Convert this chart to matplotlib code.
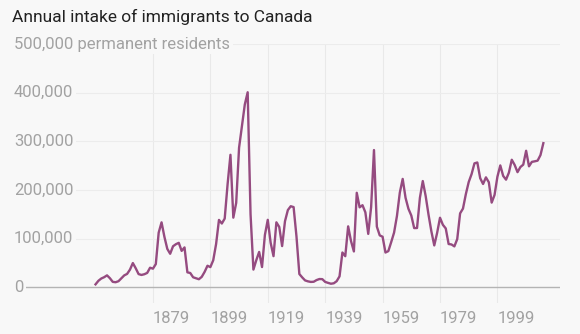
import numpy as np
import matplotlib.pyplot as plt

# Permanent residents admitted to Canada each year, 1860-2016
first_year = 1860
immigrants = [
    6276, 13589, 18294, 21000, 24779, 18958, 11427, 10666, 12765, 18630,
    24706, 27773, 36578, 50050, 39373, 27382, 25633, 27082, 29807, 40492,
    38505, 47991, 112458, 133624, 103824, 79169, 69152, 84526, 88766, 91600,
    75067, 82165, 30996, 29633, 20829, 18790, 16835, 21716, 31900, 44543,
    41681, 55747, 89102, 138660, 131252, 141465, 211653, 272409, 143326, 173694,
    286839, 331288, 375756, 400870, 150484, 36665, 55914, 72910, 41845, 107698,
    138824, 91728, 64224, 133729, 124164, 84907, 135982, 158886, 166783, 164993,
    104806, 27530, 20591, 14382, 12476, 11277, 11643, 15101, 17244, 16994,
    11324, 9329, 7576, 8504, 12801, 22722, 71719, 64127, 125414, 95217,
    73912, 194391, 164498, 168868, 154227, 109946, 164857, 282164, 124851, 106928,
    104111, 71689, 74586, 93151, 112606, 146758, 194743, 222876, 183974, 161531,
    147713, 121900, 122006, 184200, 218465, 187881, 149429, 114914, 86313, 112096,
    143117, 128618, 121147, 89157, 88239, 84302, 99219, 152098, 161929, 191555,
    216452, 232744, 254817, 256641, 224364, 212504, 226073, 216038, 174195, 189966,
    227458, 250640, 229091, 221349, 235824, 262242, 251640, 236758, 247243, 252179,
    280681, 248748, 257887, 259023, 260404, 271845, 296346,
]
years = np.arange(first_year, first_year + len(immigrants))

x_labels = ["1879", "1899", "1919", "1939", "1959", "1979", "1999"]
y_values = [0, 100000, 200000, 300000, 400000]

bg = "#f8f8f8"
line_color = "#954b80"
grey_text = "#a2a2a2"

plt.rcParams["font.family"] = ["Roboto", "DejaVu Sans"]

fig = plt.figure(figsize=(5.8, 3.34), dpi=100, facecolor=bg)
ax = fig.add_axes([14 / 580, 31 / 334, 546 / 580, 259 / 334], facecolor=bg)

ax.set_xlim(1831.6, 2021.8)
ax.set_ylim(-32000, 500000)

# faint grid
for lab in x_labels:
    ax.axvline(int(lab) + 1, color="#e9e9e9", lw=0.8, zorder=0)
for v in y_values[1:] + [500000]:
    ax.axhline(v, color="#ececec", lw=0.8, zorder=0)
ax.axhline(0, color="#b4b4b4", lw=1.0, zorder=1)

ax.plot(years, immigrants, color=line_color, lw=1.7, zorder=3,
        solid_joinstyle="round")

# y labels sit on the left, masking the start of each grid line
for v in y_values:
    ax.text(0, v, f"{v:,}", transform=ax.get_yaxis_transform(),
            ha="left", va="center", fontsize=12, color=grey_text,
            bbox=dict(facecolor=bg, edgecolor="none", pad=2), zorder=2)
ax.text(0, 500000, "500,000 permanent residents",
        transform=ax.get_yaxis_transform(), ha="left", va="center",
        fontsize=12, color=grey_text,
        bbox=dict(facecolor=bg, edgecolor="none", pad=2), zorder=2)

for lab in x_labels:
    ax.text(int(lab) + 1, -0.058, lab, transform=ax.get_xaxis_transform(),
            ha="left", va="center", fontsize=12, color=grey_text)

ax.set_xticks([])
ax.set_yticks([])
for s in ax.spines.values():
    s.set_visible(False)

fig.text(12 / 580, 1 - 17 / 334, "Annual intake of immigrants to Canada",
         ha="left", va="center", fontsize=12.5, color="#222222")

fig.savefig("out.png", dpi=100, facecolor=bg)
